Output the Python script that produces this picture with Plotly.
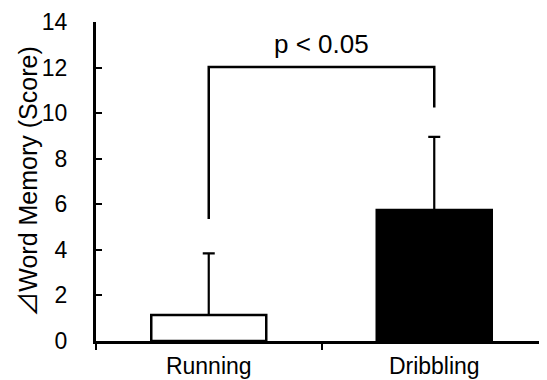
import plotly.graph_objects as go

categories = ["Running", "Dribbling"]
means = [1.14, 5.75]
sd_upper = [2.71, 3.21]
bar_colors = ["white", "black"]

bracket_x = ["Running", "Running", "Dribbling", "Dribbling"]
bracket_y = [5.35, 12.02, 12.02, 10.25]
sig_label = "p < 0.05"
sig_y = 13.05

y_ticks = [0, 2, 4, 6, 8, 10, 12, 14]

font_family = "Liberation Sans, Arial, sans-serif"
y_title = ("<span style=\"font-family:'Noto Sans CJK JP'\">⊿</span>"
           "Word Memory (Score)")

fig = go.Figure()
fig.add_trace(go.Bar(
    x=categories, y=means,
    marker=dict(color=bar_colors, line=dict(color="black", width=2.5)),
    width=0.51,
    error_y=dict(type="data", symmetric=False, array=sd_upper,
                 arrayminus=[0, 0], color="black", thickness=2.2, width=6),
    showlegend=False,
))
fig.add_trace(go.Scatter(
    x=bracket_x, y=bracket_y, mode="lines",
    line=dict(color="black", width=2.5), showlegend=False, hoverinfo="skip",
))
fig.add_annotation(
    x=0.5, y=sig_y, xref="x", yref="y", text=sig_label, showarrow=False,
    font=dict(size=26, color="black", family=font_family),
)

fig.update_layout(
    width=539, height=372,
    margin=dict(l=88, r=0, t=14, b=39),
    plot_bgcolor="white", paper_bgcolor="white",
    font=dict(family=font_family, color="black"),
)
fig.update_xaxes(
    range=[-0.5, 1.5], showline=True, linecolor="black", linewidth=3,
    ticks="outside", tickson="boundaries", ticklen=6, tickwidth=2,
    tickcolor="black", showgrid=False, zeroline=False, automargin=False,
    tickfont=dict(size=23, color="black"), ticklabelstandoff=2,
)
fig.update_yaxes(
    range=[0, 14], tickvals=y_ticks, showline=True, linecolor="black",
    linewidth=3, ticks="inside", ticklen=6, tickwidth=2, tickcolor="black",
    showgrid=False, zeroline=False, automargin=False,
    tickfont=dict(size=23, color="black"), ticklabelstandoff=21,
    title=dict(text=y_title, font=dict(size=25, color="black"), standoff=0),
)

fig.write_html("out.html")
